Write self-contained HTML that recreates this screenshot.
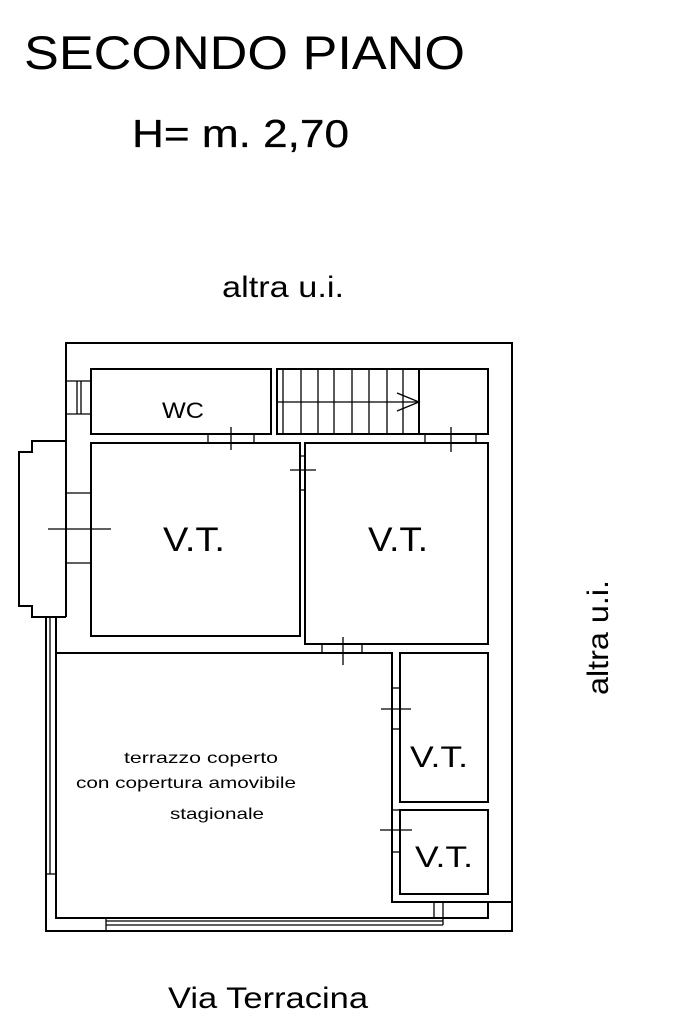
<!DOCTYPE html>
<html><head><meta charset="utf-8"><style>html,body{margin:0;padding:0;background:#fff}svg{display:block}</style></head>
<body>
<svg width="683" height="1023" viewBox="0 0 683 1023" xmlns="http://www.w3.org/2000/svg" font-family="Liberation Sans, Arial, sans-serif">
<g fill="#000">
<text x="24" y="69" font-size="47" textLength="441" lengthAdjust="spacingAndGlyphs">SECONDO PIANO</text>
<text x="132" y="147" font-size="39" textLength="217" lengthAdjust="spacingAndGlyphs" stroke="#000" stroke-width="0.3">H= m. 2,70</text>
<text x="222" y="297" font-size="30" textLength="122" lengthAdjust="spacingAndGlyphs">altra u.i.</text>
<text x="168" y="1008" font-size="30" textLength="200" lengthAdjust="spacingAndGlyphs">Via Terracina</text>
<text transform="translate(608,695) rotate(-90)" font-size="30" textLength="115" lengthAdjust="spacingAndGlyphs">altra u.i.</text>
<text x="162" y="418" font-size="22" textLength="42" lengthAdjust="spacingAndGlyphs">WC</text>
<text x="163" y="551" font-size="34" textLength="62" lengthAdjust="spacingAndGlyphs">V.T.</text>
<text x="368" y="551" font-size="34" textLength="60" lengthAdjust="spacingAndGlyphs">V.T.</text>
<text x="410" y="767" font-size="30" textLength="58" lengthAdjust="spacingAndGlyphs">V.T.</text>
<text x="415" y="867" font-size="30" textLength="58" lengthAdjust="spacingAndGlyphs">V.T.</text>
<text x="124" y="763" font-size="16" textLength="154" lengthAdjust="spacingAndGlyphs">terrazzo coperto</text>
<text x="76" y="788" font-size="16" textLength="220" lengthAdjust="spacingAndGlyphs">con copertura amovibile</text>
<text x="170" y="819" font-size="16" textLength="94" lengthAdjust="spacingAndGlyphs">stagionale</text>
</g>
<g fill="none" stroke="#000" stroke-width="2">
<polyline points="66,617 66,343 512,343 512,931 46,931 46,617"/>
<polyline points="66,441 32,441 32,452 19,452 19,606 32,606 32,617 66,617"/>
<rect x="91" y="369" width="180" height="65"/>
<rect x="277" y="369" width="211" height="65"/>
<rect x="91" y="443" width="209" height="193"/>
<rect x="305" y="443" width="183" height="201"/>
<rect x="400" y="653" width="88" height="149"/>
<rect x="400" y="810" width="88" height="84"/>
<polyline points="56,617 56,918 488,918 488,902"/>
<polyline points="56,653 392,653 392,902 512,902"/>
</g>
<g fill="none" stroke="#000" stroke-width="1.3">
<line x1="50" y1="617" x2="50" y2="874"/>
<line x1="46" y1="874" x2="56" y2="874"/>
<line x1="283" y1="369" x2="283" y2="434"/><line x1="301" y1="369" x2="301" y2="434"/>
<line x1="318" y1="369" x2="318" y2="434"/><line x1="334" y1="369" x2="334" y2="434"/>
<line x1="352" y1="369" x2="352" y2="434"/><line x1="369" y1="369" x2="369" y2="434"/>
<line x1="387" y1="369" x2="387" y2="434"/><line x1="403" y1="369" x2="403" y2="434"/>
<line x1="419" y1="369" x2="419" y2="434" stroke-width="2"/>
<line x1="277" y1="402" x2="419" y2="402"/>
<polyline points="397,393 419,402 397,411"/>
<line x1="66" y1="381" x2="91" y2="381"/><line x1="66" y1="414" x2="91" y2="414"/>
<line x1="77" y1="381" x2="77" y2="414"/><line x1="81" y1="381" x2="81" y2="414"/>
<line x1="66" y1="493" x2="91" y2="493"/><line x1="66" y1="563" x2="91" y2="563"/>
<line x1="48" y1="529" x2="111" y2="529"/>
<line x1="208" y1="434" x2="208" y2="443"/><line x1="254" y1="434" x2="254" y2="443"/><line x1="231" y1="427" x2="231" y2="450"/>
<line x1="425" y1="434" x2="425" y2="443"/><line x1="476" y1="434" x2="476" y2="443"/><line x1="451" y1="427" x2="451" y2="452"/>
<line x1="300" y1="456" x2="305" y2="456"/><line x1="300" y1="490" x2="305" y2="490"/><line x1="290" y1="470" x2="316" y2="470"/>
<line x1="322" y1="644" x2="322" y2="653"/><line x1="362" y1="644" x2="362" y2="653"/><line x1="343" y1="637" x2="343" y2="665"/>
<line x1="392" y1="688" x2="400" y2="688"/><line x1="392" y1="729" x2="400" y2="729"/><line x1="381" y1="709" x2="411" y2="709"/>
<line x1="392" y1="810" x2="400" y2="810"/><line x1="392" y1="852" x2="400" y2="852"/><line x1="380" y1="830" x2="412" y2="830"/>
<line x1="106" y1="921" x2="443" y2="921"/><line x1="106" y1="925" x2="443" y2="925"/>
<line x1="106" y1="918" x2="106" y2="931"/>
<line x1="434" y1="902" x2="434" y2="918"/><line x1="443" y1="902" x2="443" y2="925"/>
</g>
</svg>
</body></html>
